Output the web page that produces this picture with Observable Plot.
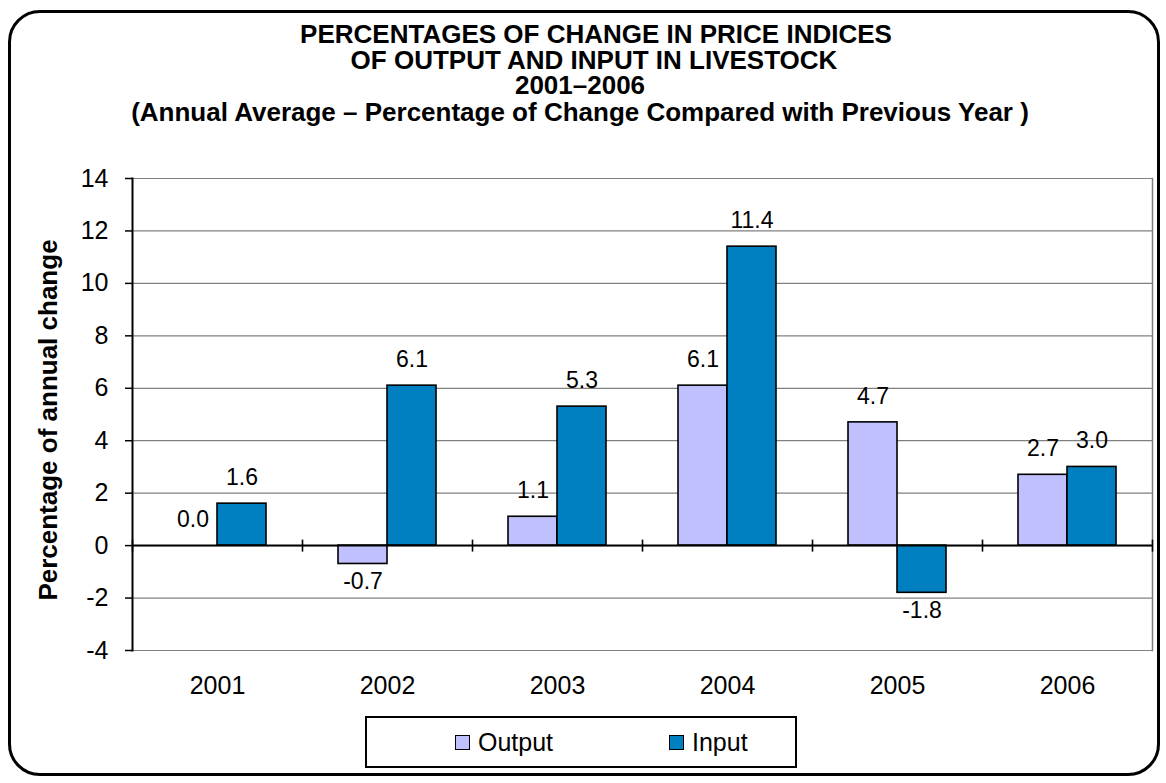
<!DOCTYPE html>
<html>
<head>
<meta charset="utf-8">
<script src="https://cdn.jsdelivr.net/npm/d3@7"></script>
<script src="https://cdn.jsdelivr.net/npm/@observablehq/plot@0.6"></script>
<style>
  html, body { margin: 0; padding: 0; background: #ffffff; }
  #wrap { position: relative; width: 1166px; height: 783px; overflow: hidden; font-family: "Liberation Sans", Arial, sans-serif; color: #000; }
  #border { position: absolute; left: 8px; top: 10px; width: 1146px; height: 760px; border: 3px solid #000; border-radius: 32px; pointer-events: none; }
  .t { position: absolute; left: 0; width: 1166px; text-align: center; font-weight: bold; font-size: 26px; line-height: 20px; white-space: nowrap; }
  #ylab { position: absolute; left: 48px; top: 420px; transform: translate(-50%, -50%) rotate(-90deg); font-weight: bold; font-size: 26px; white-space: nowrap; }
  #legend { position: absolute; left: 365px; top: 716px; width: 428px; height: 48px; border: 2px solid #000; background: #fff; }
  .li { position: absolute; top: 0; height: 48px; display: flex; align-items: center; font-size: 25px; }
  .sw { width: 13px; height: 13px; border: 1.5px solid #000; margin-right: 8px; }
  #chart { position: absolute; left: 0; top: 0; }
</style>
</head>
<body>
<div id="wrap">
  <div id="chart"></div>
  <div class="t" style="top:24px; left:13px">PERCENTAGES OF CHANGE IN PRICE INDICES</div>
  <div class="t" style="top:50px; left:11px">OF OUTPUT AND INPUT IN LIVESTOCK</div>
  <div class="t" style="top:75px; left:-3px">2001–2006</div>
  <div class="t" style="top:102px; left:-3px">(Annual Average – Percentage of Change Compared with Previous Year )</div>
  <div id="ylab">Percentage of annual change</div>
  <div id="legend"></div>
  <div id="border"></div>
</div>
<script>
const years = ["2001", "2002", "2003", "2004", "2005", "2006"];
const seriesNames = ["Output", "Input"];
const outputValues = [0.0, -0.7, 1.1, 6.1, 4.7, 2.7];
const inputValues = [1.6, 6.1, 5.3, 11.4, -1.8, 3.0];
const yTicks = [-4, -2, 0, 2, 4, 6, 8, 10, 12, 14];
const seriesColors = ["#C0C0FF", "#0080C0"];

const data = years.flatMap((year, i) => [
  {year, series: "Output", value: outputValues[i]},
  {year, series: "Input", value: inputValues[i]}
]);

const vtick = {
  draw(context, size) {
    const h = Math.sqrt(size / Math.PI);
    context.moveTo(0, -h);
    context.lineTo(0, h);
  }
};

const fmt = v => v.toFixed(1);

const chart = Plot.plot({
  width: 1166,
  height: 783,
  marginLeft: 130,
  marginRight: 13,
  marginTop: 178,
  marginBottom: 133,
  style: {fontFamily: "'Liberation Sans', Arial, sans-serif", fontSize: "25px", color: "#000", background: "transparent", overflow: "visible"},
  fx: {domain: years, padding: 0, label: null},
  x: {domain: seriesNames, paddingInner: 0, paddingOuter: 0.71, axis: null},
  y: {domain: [-4, 14], label: null},
  color: {domain: seriesNames, range: seriesColors},
  marks: [
    Plot.gridY(yTicks, {stroke: "#808080", strokeOpacity: 1, strokeWidth: 1.2}),
    Plot.frame({anchor: "right", facetAnchor: "right", stroke: "#808080", strokeWidth: 1.5}),
    Plot.barY(data, {fx: "year", x: "series", y: "value", fill: "series", stroke: "#000", strokeWidth: 1.6}),
    Plot.ruleY([0], {stroke: "#000", strokeWidth: 2}),
    Plot.frame({anchor: "left", facetAnchor: "left", stroke: "#000", strokeWidth: 2}),
    Plot.dot([0], {y: d => d, frameAnchor: "left", symbol: vtick, r: 6, stroke: "#000", strokeWidth: 1.6, fill: "none"}),
    Plot.dot([0], {y: d => d, frameAnchor: "right", facetAnchor: "right", symbol: vtick, r: 6, stroke: "#000", strokeWidth: 1.6, fill: "none"}),
    Plot.axisY(yTicks, {anchor: "left", tickSize: 7, tickPadding: 17, strokeWidth: 1.5, fontSize: 25, label: null, tickFormat: d => String(d)}),
    Plot.axisFx({anchor: "bottom", tickSize: 0, tickPadding: 26, fontSize: 25, label: null}),
    Plot.text(data.filter(d => d.value >= 0), {fx: "year", x: "series", y: "value", text: d => fmt(d.value), dy: -26, fontSize: 23}),
    Plot.text(data.filter(d => d.value < 0), {fx: "year", x: "series", y: "value", text: d => fmt(d.value), dy: 18, fontSize: 23})
  ]
});
document.getElementById("chart").appendChild(chart);

const legend = document.getElementById("legend");
const legendX = [88, 302];
seriesNames.forEach((name, i) => {
  const item = document.createElement("div");
  item.className = "li";
  item.style.left = legendX[i] + "px";
  const sw = document.createElement("div");
  sw.className = "sw";
  sw.style.background = seriesColors[i];
  item.appendChild(sw);
  const label = document.createElement("span");
  label.textContent = name;
  item.appendChild(label);
  legend.appendChild(item);
});
</script>
</body>
</html>
